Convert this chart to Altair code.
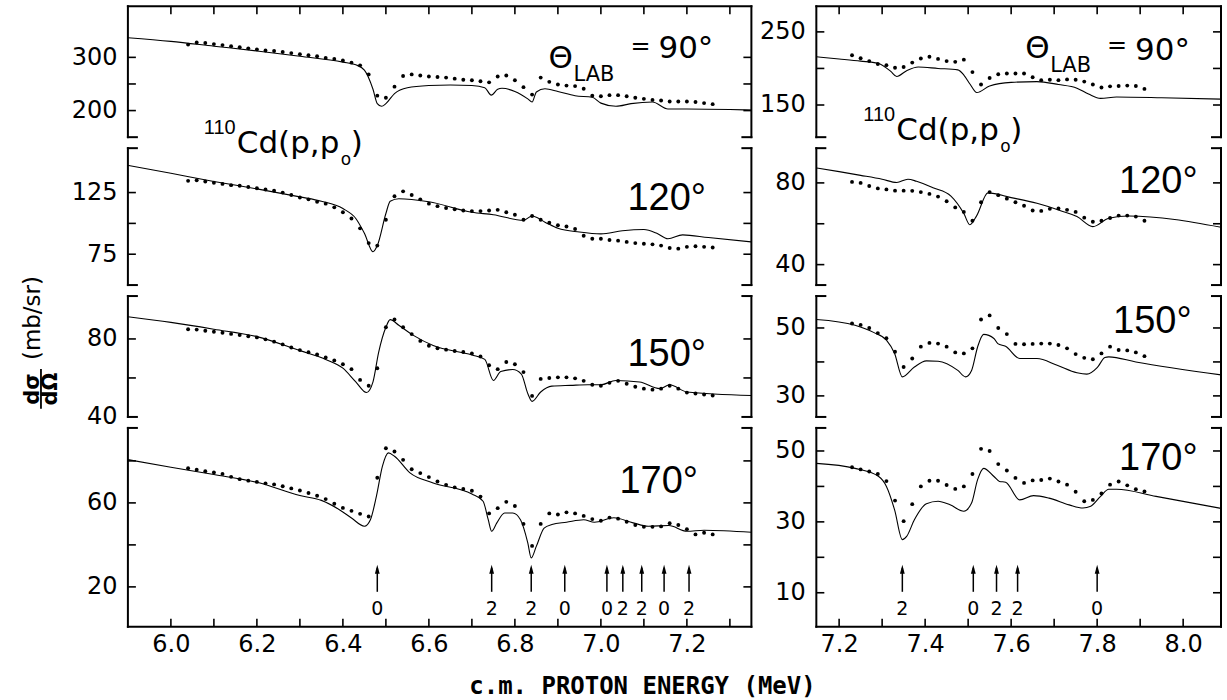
import altair as alt
import pandas as pd

FONT = "DejaVu Sans"
ANG_FONT = "Liberation Sans"

# ---------------- data ----------------
E_LEFT = [6.04, 6.06, 6.08, 6.10, 6.12, 6.14, 6.16, 6.18, 6.20, 6.22,
          6.24, 6.26, 6.28, 6.30, 6.32, 6.34, 6.36, 6.38, 6.40, 6.42,
          6.44, 6.46, 6.48, 6.50, 6.52, 6.54, 6.56, 6.58, 6.60, 6.62,
          6.64, 6.66, 6.68, 6.70, 6.72, 6.74, 6.76, 6.78, 6.80, 6.82,
          6.84, 6.86, 6.88, 6.90, 6.92, 6.94, 6.96, 6.98, 7.00, 7.02,
          7.04, 7.06, 7.08, 7.10, 7.12, 7.14, 7.16, 7.18, 7.20, 7.22,
          7.24, 7.26]
E_RIGHT = [7.23, 7.25, 7.27, 7.29, 7.31, 7.33, 7.35, 7.37, 7.39, 7.41,
           7.43, 7.45, 7.47, 7.49, 7.51, 7.53, 7.55, 7.57, 7.59, 7.61,
           7.63, 7.65, 7.67, 7.69, 7.71, 7.73, 7.75, 7.77, 7.79, 7.81,
           7.83, 7.85, 7.87, 7.89, 7.91]

# measured cross sections (points)
L90_PTS = [324, 328, 327, 325, 323, 321, 319, 317, 315, 313,
           312, 310, 308, 306, 304, 302, 299, 297, 294, 290,
           285, 268, 228, 224, 245, 265, 268, 266, 264, 263,
           262, 260, 258, 257, 255, 253, 264, 266, 257, 244,
           230, 262, 254, 249, 247, 246, 241, 228, 227, 229,
           229, 227, 224, 222, 220, 219, 217, 217, 217, 216,
           214, 212]
L120_PTS = [134.5, 135, 134, 133, 132, 131, 130.5, 129.5, 128.5, 127.5,
            126.5, 125, 123, 121, 119.5, 117.5, 116, 113, 109, 104,
            96, 84, 82, 103, 122, 126, 123, 119.5, 116, 114,
            112.5, 111.5, 110.5, 110, 110, 110.5, 111, 109, 107, 103,
            106, 103, 100.5, 98.5, 97.5, 95.5, 90, 87.5, 87.5, 86.5,
            86, 85, 84, 83.5, 83, 82, 80, 79.5, 81, 81.5,
            81, 80.5]
L150_PTS = [85, 84.8, 84.2, 83.7, 83.2, 82.6, 82, 81.4, 80.8, 79.8,
            78.6, 77.2, 75.6, 74.3, 73.2, 72, 70.5, 69, 67, 64.5,
            59, 56, 65, 86, 90, 86, 82.5, 79, 76.5, 75.2,
            74.5, 73.8, 73.3, 72.6, 71, 66.5, 64.5, 68.2, 67, 63,
            50.8, 59.5, 60, 60.3, 60.3, 59.8, 58.5, 56.5, 56, 57.5,
            58.5, 57, 55.5, 54.5, 54, 54.5, 56, 54.5, 52.5, 52,
            51.5, 51]
L170_PTS = [76.5, 75.8, 75.1, 74.5, 73.8, 72.4, 71.3, 70.6, 70, 69.3,
            68.8, 67.9, 66.9, 65.9, 64.7, 63.4, 61.8, 59.6, 57.6, 56.2,
            54.8, 53.5, 72, 86, 84.5, 80.5, 76, 74.2, 72.3, 70.2,
            68.6, 67.4, 66.6, 65.8, 63, 55, 57.5, 60.5, 58.5, 50,
            39.5, 50, 55, 54.5, 55.5, 55, 53.8, 52.3, 51.5, 53,
            52.5, 51, 49.5, 48.6, 48.6, 48.8, 50.3, 49.5, 47.5, 45,
            45.8, 45]
R90_PTS = [218, 214, 210, 206, 204.5, 201, 202, 208, 213.6, 216,
           213, 210, 209, 212, 195, 178, 187, 192, 193, 193,
           193, 188, 184, 184.5, 184, 185, 184.5, 182, 178, 174,
           175.5, 176, 176.5, 176, 172]
R120_PTS = [80.5, 80, 78.5, 77.3, 76.8, 76.2, 76.2, 76.1, 75.5, 74.6,
            73.3, 71, 68, 65.8, 61.5, 70.5, 75.5, 74, 72.3, 70.5,
            68.8, 66.5, 66.3, 67.3, 67.5, 66.8, 65.8, 63, 61, 61.5,
            62.8, 64, 64, 63.5, 61.5]
R150_PTS = [51.3, 50.9, 50, 48.5, 47, 43, 38.5, 41, 44.5, 45.6,
            45.4, 44.5, 42.8, 42.5, 44, 52.5, 53.7, 50, 48.2, 45.3,
            45.2, 45.3, 45.4, 45.4, 45, 44, 42.3, 41.2, 40.8, 42.5,
            44.5, 43.5, 43.4, 42.8, 41.7]
R170_PTS = [45.4, 44.8, 44.2, 43.5, 41.5, 36, 30.2, 35, 40, 41.6,
            41.6, 40.4, 39.3, 40, 43.5, 50.6, 50, 46.3, 44.5, 42.4,
            41, 41.7, 41.8, 42.2, 41.4, 40.5, 38.5, 35.8, 36.2, 38,
            40.5, 41.4, 40.3, 39.2, 38.6]

# fitted curves
L90_FIT_E = [5.9, 6.0, 6.1, 6.2, 6.3, 6.4, 6.43, 6.45, 6.47, 6.48,
             6.49, 6.50, 6.52, 6.55, 6.6, 6.65, 6.7, 6.73, 6.745, 6.76,
             6.77, 6.8, 6.83, 6.84, 6.85, 6.87, 6.9, 6.94, 6.98, 7.0,
             7.035, 7.07, 7.12, 7.156, 7.2, 7.3, 7.35]
L90_FIT_V = [337, 330, 321, 312, 302, 291, 286, 276, 240, 213,
             208, 213, 232, 243, 247, 248, 247, 243, 229, 240,
             242, 236, 222, 216, 235, 241, 236, 228, 225, 214,
             208, 213, 216, 203, 203, 202, 201]
L120_FIT_E = [5.9, 6.0, 6.1, 6.2, 6.3, 6.35, 6.4, 6.43, 6.45, 6.47,
              6.48, 6.50, 6.51, 6.53, 6.6, 6.7, 6.75, 6.82, 6.84, 6.87,
              6.9, 6.95, 7.0, 7.05, 7.1, 7.13, 7.156, 7.19, 7.25, 7.35]
L120_FIT_V = [147, 140.6, 134, 128, 121.5, 118, 112, 104, 92, 77,
              82, 108, 118, 120, 117.5, 109, 107, 102.5, 106, 101,
              96, 93, 91.5, 94, 95, 92, 87.5, 90.7, 88.5, 85]
L150_FIT_E = [5.9, 6.0, 6.1, 6.2, 6.3, 6.36, 6.4, 6.43, 6.455, 6.47,
              6.483, 6.5, 6.51, 6.53, 6.565, 6.61, 6.7, 6.73, 6.75, 6.767,
              6.795, 6.815, 6.83, 6.84, 6.86, 6.886, 6.93, 6.97, 7.0, 7.035,
              7.09, 7.137, 7.16, 7.2, 7.35]
L150_FIT_V = [91.4, 88.5, 85, 81.2, 74, 69.5, 65, 58, 52.5, 58,
              73, 86, 89.9, 87, 81.7, 76.6, 71.8, 69.5, 58.7, 63.3,
              64.3, 62, 52, 48, 52.8, 55.8, 56.2, 56.5, 56.5, 58.7,
              57.9, 54.5, 56.5, 52.8, 51]
L170_FIT_E = [5.9, 6.0, 6.1, 6.2, 6.3, 6.35, 6.39, 6.42, 6.45, 6.464,
              6.478, 6.492, 6.506, 6.52, 6.556, 6.61, 6.70, 6.726, 6.738, 6.746,
              6.758, 6.776, 6.795, 6.813, 6.83, 6.838, 6.85, 6.868, 6.886, 6.92,
              6.96, 6.985, 7.03, 7.075, 7.11, 7.158, 7.2, 7.24, 7.35]
L170_FIT_V = [80.6, 77, 73.5, 69.8, 63.5, 61.2, 57, 52.8, 48.9, 52,
              63.2, 77.5, 83.8, 82.2, 74.3, 69.5, 64.2, 60.8, 52, 46.5,
              50.5, 55.2, 55.2, 52, 41, 33.8, 39.4, 48, 49.7, 50.8,
              52, 50.8, 52.9, 50.5, 48.9, 49.2, 46.5, 47, 46]
R90_FIT_E = [7.147, 7.2, 7.25, 7.29, 7.32, 7.334, 7.357, 7.384, 7.43, 7.476,
             7.49, 7.505, 7.52, 7.55, 7.6, 7.66, 7.71, 7.753, 7.78, 7.808,
             7.845, 7.95, 8.088]
R90_FIT_V = [216, 213, 210, 207, 196, 189, 197, 202, 200, 198,
             191, 178, 167, 176, 181, 182, 178, 173, 165, 159,
             161, 160, 158]
R120_FIT_E = [7.147, 7.2, 7.25, 7.3, 7.334, 7.36, 7.38, 7.42, 7.46, 7.49,
              7.504, 7.52, 7.546, 7.6, 7.66, 7.72, 7.753, 7.79, 7.827, 7.873,
              8.088]
R120_FIT_V = [87.3, 85.5, 83.7, 81.8, 80.2, 81.8, 80.8, 77.5, 73.5, 65,
              59.5, 64, 75.1, 72.8, 70, 66, 63.5, 58.6, 62.7, 63.8,
              58.3]
R150_FIT_E = [7.147, 7.237, 7.28, 7.31, 7.329, 7.347, 7.375, 7.403, 7.43, 7.476,
              7.494, 7.508, 7.522, 7.536, 7.56, 7.569, 7.587, 7.62, 7.66, 7.707,
              7.753, 7.776, 7.8, 7.818, 7.827, 7.89, 8.088]
R150_FIT_V = [52.5, 50.8, 48.7, 46.4, 42.5, 35.6, 38.5, 40.3, 40.2, 37.5,
              35.6, 37.5, 44.4, 48.1, 46.9, 45.4, 44.6, 41, 41, 39,
              36.8, 36.4, 38.3, 41.3, 41.5, 40, 36.2]
R170_FIT_E = [7.147, 7.237, 7.292, 7.31, 7.329, 7.347, 7.357, 7.375, 7.403, 7.43,
              7.458, 7.49, 7.508, 7.522, 7.536, 7.56, 7.573, 7.587, 7.62, 7.652,
              7.688, 7.735, 7.767, 7.785, 7.808, 7.827, 7.845, 7.937, 8.088]
R170_FIT_V = [46.5, 45.1, 42.8, 40, 33.4, 25, 25.9, 30.6, 35.1, 35.8,
              34.8, 33, 35.3, 41.9, 45.1, 42.8, 41.4, 41.2, 36.2, 37.4,
              36.7, 34.8, 33.9, 34.4, 37.2, 39.2, 39.2, 37.2, 33.8]

# resonance markers (energy, orbital angular momentum)
ARROW_E_L = [6.48, 6.746, 6.838, 6.916, 7.014, 7.051, 7.095, 7.147, 7.205]
ARROW_T_L = ["0", "2", "2", "0", "0", "2", "2", "0", "2"]
ARROW_E_R = [7.347, 7.512, 7.566, 7.615, 7.80]
ARROW_T_R = ["2", "0", "2", "2", "0"]

# axes
X_TICKS_L = [6.0, 6.1, 6.2, 6.3, 6.4, 6.5, 6.6, 6.7, 6.8, 6.9, 7.0, 7.1, 7.2, 7.3]
X_LABELS_L = [6.0, 6.2, 6.4, 6.6, 6.8, 7.0, 7.2]
X_TICKS_R = [7.2, 7.3, 7.4, 7.5, 7.6, 7.7, 7.8, 7.9, 8.0]
X_LABELS_R = [7.2, 7.4, 7.6, 7.8, 8.0]
Y_TICKS_L = [[200, 250, 300], [75, 100, 125], [60, 80], [20, 40, 60, 80]]
Y_LABELS_L = [[200, 300], [75, 125], [40, 80], [20, 60]]
Y_TICKS_R = [[150, 200, 250], [40, 60, 80], [30, 40, 50], [10, 20, 30, 40, 50]]
Y_LABELS_R = [[150, 250], [40, 80], [30, 50], [10, 30, 50]]
Y_DOM_L = [[150, 396], [50, 161], [40, 102], [1, 95.7]]
Y_DOM_R = [[106, 285], [30, 97], [23.8, 59.4], [0.4, 56.5]]
X_DOM_L = [5.9, 7.35]
X_DOM_R = [7.147, 8.088]
ANGLES = ["120°", "150°", "170°"]

# ---------------- layout ----------------
W_L, W_R = 624, 405
HEIGHTS = [131, 137, 121, 199]
TICK = 8
STUB = 9
LABEL_SIZE = 24
ONE = pd.DataFrame({"a": [0]})
ARROW_PATH = "M0,-1L0.4,0.5L-0.4,0.5Z"


def seg(x1, y1, x2, y2, sw=2):
    return alt.Chart(ONE).mark_rule(color="black", strokeWidth=sw, strokeCap="square").encode(
        x=alt.value(x1), y=alt.value(y1), x2=alt.value(x2), y2=alt.value(y2))


def txt(s, x, y, size, font=FONT, align="left", baseline="alphabetic", weight="normal", angle=0):
    return alt.Chart(ONE).mark_text(text=s, font=font, fontSize=size, align=align, baseline=baseline,
                                    fontWeight=weight, angle=angle, color="black").encode(
        x=alt.value(x), y=alt.value(y))


def panel(e_pts, v_pts, e_fit, v_fit, xdom, ydom, w, h, yticks, ylabels,
          xticks, xlabels, pos, extras, arrows=None):
    xs = alt.Scale(domain=xdom, nice=False, zero=False)
    ys = alt.Scale(domain=ydom, nice=False, zero=False)
    if pos == "bottom":
        xax = alt.Axis(values=xlabels, format=".1f", ticks=False, domain=False, grid=False,
                       labelPadding=6, labelFontSize=LABEL_SIZE, labelFont=FONT, labelColor="black",
                       title=None, labelFlush=False, labelOverlap=False)
    else:
        xax = None
    yax = alt.Axis(values=ylabels, ticks=False, domain=False, grid=False, labelPadding=11,
                   labelFontSize=LABEL_SIZE, labelFont=FONT, labelColor="black", title=None,
                   labelOverlap=False, labelFlush=False)

    def X(f):
        return alt.X(f, type="quantitative", scale=xs, axis=xax)

    def Y(f):
        return alt.Y(f, type="quantitative", scale=ys, axis=yax)

    layers = []
    layers.append(alt.Chart(pd.DataFrame({"E": e_pts, "v": v_pts})).mark_circle(
        size=15, color="black", opacity=1, clip=True).encode(x=X("E"), y=Y("v")))
    layers.append(alt.Chart(pd.DataFrame({"E": e_fit, "v": v_fit})).mark_line(
        color="black", strokeWidth=1.1, interpolate="monotone", clip=True).encode(x=X("E"), y=Y("v")))
    # inward y ticks, both sides
    yt = pd.DataFrame({"v": yticks})
    layers.append(alt.Chart(yt).mark_rule(color="black", strokeWidth=1.6).encode(
        y=Y("v"), x=alt.value(0), x2=alt.value(TICK)))
    layers.append(alt.Chart(yt).mark_rule(color="black", strokeWidth=1.6).encode(
        y=Y("v"), x=alt.value(w - TICK), x2=alt.value(w)))
    # inward x ticks on top / bottom edge
    xt = pd.DataFrame({"E": xticks})
    if pos == "top":
        layers.append(alt.Chart(xt).mark_rule(color="black", strokeWidth=1.6).encode(
            x=X("E"), y=alt.value(0), y2=alt.value(TICK)))
    if pos == "bottom":
        layers.append(alt.Chart(xt).mark_rule(color="black", strokeWidth=1.6).encode(
            x=X("E"), y=alt.value(h - TICK), y2=alt.value(h)))
    # frame
    layers.append(seg(0, 0, 0, h))
    layers.append(seg(w, 0, w, h))
    if pos == "top":
        layers.append(seg(0, 0, w, 0))
    else:
        layers.append(seg(0, 0, STUB, 0))
        layers.append(seg(w - STUB, 0, w, 0))
    if pos == "bottom":
        layers.append(seg(0, h, w, h))
    else:
        layers.append(seg(0, h, STUB, h))
        layers.append(seg(w - STUB, h, w, h))
    if arrows is not None:
        adf = pd.DataFrame({"E": arrows[0], "l": arrows[1]})
        layers.append(alt.Chart(adf).mark_rule(color="black", strokeWidth=1.5).encode(
            x=X("E"), y=alt.value(140), y2=alt.value(164)))
        layers.append(alt.Chart(adf).mark_point(shape=ARROW_PATH, filled=True, size=144, opacity=1,
                                                color="black", strokeWidth=0).encode(
            x=X("E"), y=alt.value(143)))
        layers.append(alt.Chart(adf).mark_text(font=FONT, fontSize=19, baseline="middle",
                                               align="center", color="black").encode(
            x=X("E"), y=alt.value(181), text="l:N"))
    layers.extend(extras)
    return alt.layer(*layers).properties(width=w, height=h)


def theta_label(x0, y_theta, y_lab, y_eq, y_num):
    return [
        txt("Θ", x0, y_theta, 31),
        txt("LAB", x0 + 25, y_lab, 21),
        txt("=", x0 + 92, y_eq, 24, align="center", baseline="middle"),
        txt("90°", x0 + 110, y_num, 31),
    ]


def reaction_label(x0, y_base):
    return [
        txt("110", x0, y_base - 19, 20, font=ANG_FONT),
        txt("Cd(p,p", x0 + 33, y_base, 31),
        txt("o", x0 + 137, y_base + 12, 17),
        txt(")", x0 + 147, y_base, 31),
    ]


# left column extras
L_EXTRA = [
    [alt.Chart(ONE).mark_rule(opacity=0).encode(x=alt.value(-128), x2=alt.value(-127),
                                                 y=alt.value(-6), y2=alt.value(-5))]
    + theta_label(421, 62, 75, 41, 52) + reaction_label(76, 147),
    [txt(ANGLES[0], 500, 62, 38, font=ANG_FONT)],
    [txt(ANGLES[1], 500, 70, 38, font=ANG_FONT),
     txt("dσ", -89, 93, 21, align="center", baseline="alphabetic", weight="bold", angle=270),
     txt("dΩ", -71, 93, 21, align="center", baseline="alphabetic", weight="bold", angle=270),
     seg(-87, 74, -87, 112, sw=1.8),
     txt("(mb/sr)", -88, 22, 23, align="center", baseline="alphabetic", angle=270)],
    [txt(ANGLES[2], 492, 65, 38, font=ANG_FONT),
     txt("c.m. PROTON ENERGY (MeV)", 515, 259, 24, font="DejaVu Sans Mono",
         align="center", baseline="middle", weight="bold")],
]
R_EXTRA = [
    theta_label(209, 52, 66, 40, 54) + reaction_label(47, 134),
    [txt(ANGLES[0], 303, 45, 38, font=ANG_FONT)],
    [txt(ANGLES[1], 297, 37, 38, font=ANG_FONT)],
    [txt(ANGLES[2], 303, 42, 38, font=ANG_FONT)],
]

L_PTS = [L90_PTS, L120_PTS, L150_PTS, L170_PTS]
L_FIT = [(L90_FIT_E, L90_FIT_V), (L120_FIT_E, L120_FIT_V), (L150_FIT_E, L150_FIT_V), (L170_FIT_E, L170_FIT_V)]
R_PTS = [R90_PTS, R120_PTS, R150_PTS, R170_PTS]
R_FIT = [(R90_FIT_E, R90_FIT_V), (R120_FIT_E, R120_FIT_V), (R150_FIT_E, R150_FIT_V), (R170_FIT_E, R170_FIT_V)]
POS = ["top", "mid", "mid", "bottom"]

cells = []
for i in range(4):
    cells.append(panel(E_LEFT, L_PTS[i], L_FIT[i][0], L_FIT[i][1], X_DOM_L, Y_DOM_L[i], W_L, HEIGHTS[i],
                       Y_TICKS_L[i], Y_LABELS_L[i], X_TICKS_L, X_LABELS_L, POS[i], L_EXTRA[i],
                       arrows=(ARROW_E_L, ARROW_T_L) if i == 3 else None))
    cells.append(panel(E_RIGHT, R_PTS[i], R_FIT[i][0], R_FIT[i][1], X_DOM_R, Y_DOM_R[i], W_R, HEIGHTS[i],
                       Y_TICKS_R[i], Y_LABELS_R[i], X_TICKS_R, X_LABELS_R, POS[i], R_EXTRA[i],
                       arrows=(ARROW_E_R, ARROW_T_R) if i == 3 else None))

chart = alt.concat(*cells, columns=2, spacing={"row": 11, "column": 65}, bounds="flush").properties(
    padding={"left": 0, "top": 0, "right": 4, "bottom": 4},
    background="white",
).configure_view(stroke=None)

chart.save("out.html", embed_options={"renderer": "svg", "actions": False})
